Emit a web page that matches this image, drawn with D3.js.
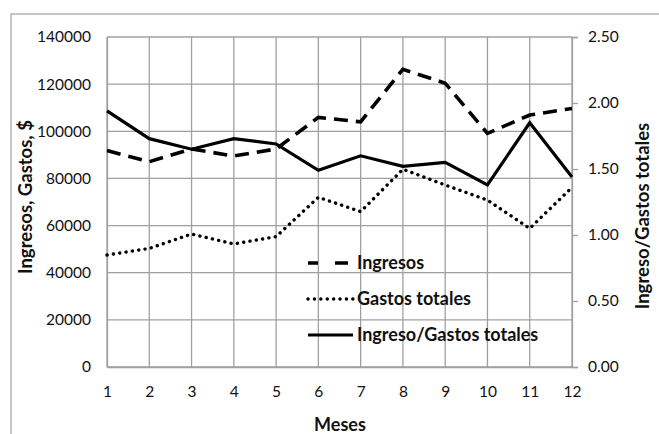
<!DOCTYPE html>
<html><head><meta charset="utf-8">
<script src="https://cdn.jsdelivr.net/npm/d3@7"></script>
<style>
html,body{margin:0;padding:0;background:#fff;}
svg{display:block;font-family:Lato,"Open Sans",sans-serif;}
</style></head>
<body>
<svg id="chart" width="659" height="434"></svg>
<script>
const months = [1,2,3,4,5,6,7,8,9,10,11,12];
const ingresos = [91800,87100,92500,89500,92500,105900,104000,126300,120400,99100,106900,109700];
const gastos = [47500,50300,56400,52200,55300,72000,65900,83900,77200,70800,58800,76200];
const ratio = [1.94,1.73,1.65,1.73,1.69,1.49,1.60,1.52,1.55,1.38,1.85,1.44];
const leftTicks = [0,20000,40000,60000,80000,100000,120000,140000];
const rightTicks = [0,0.5,1,1.5,2,2.5];
const seriesNames = ["Ingresos","Gastos totales","Ingreso/Gastos totales"];

const svg = d3.select("#chart");
const L = 107, R = 572, T = 37, B = 367;
const grid = "#a0a0a0";

svg.append("rect").attr("x",11).attr("y",14).attr("width",660).attr("height",430)
  .attr("fill","#fff").attr("stroke",grid).attr("stroke-width",1.2);

const x = d3.scaleLinear().domain([1,12]).range([L,R]);
const yL = d3.scaleLinear().domain([0,140000]).range([B,T]);
const yR = d3.scaleLinear().domain([0,2.5]).range([B,T]);

// gridlines
svg.append("g").selectAll("line").data(leftTicks).join("line")
  .attr("x1",L).attr("x2",R).attr("y1",d=>yL(d)).attr("y2",d=>yL(d))
  .attr("stroke",grid).attr("stroke-width",1.3);
svg.append("g").selectAll("line").data(months).join("line")
  .attr("x1",d=>x(d)).attr("x2",d=>x(d)).attr("y1",T).attr("y2",B)
  .attr("stroke",grid).attr("stroke-width",1.3);

// axes
const ax = svg.append("g").attr("transform",`translate(0,${B})`)
  .call(d3.axisBottom(x).tickValues(months).tickFormat(d3.format("d")).tickSize(0).tickPadding(19));
const ayl = svg.append("g").attr("transform",`translate(${L},0)`)
  .call(d3.axisLeft(yL).tickValues(leftTicks).tickFormat(d3.format("d")).tickSize(0).tickPadding(16));
const ayr = svg.append("g").attr("transform",`translate(${R},0)`)
  .call(d3.axisRight(yR).tickValues(rightTicks).tickFormat(d3.format(".2f")).tickSize(6).tickPadding(10));
[ax,ayl,ayr].forEach(g=>{
  g.select(".domain").attr("stroke",grid).attr("stroke-width",1.3);
  g.selectAll(".tick line").attr("stroke",grid).attr("stroke-width",1.3);
  g.selectAll("text").attr("font-family","Lato").attr("font-size",15.5).attr("fill","#111");
});

// lines
const lineL = d3.line().x((d,i)=>x(months[i])).y(d=>yL(d));
const lineR = d3.line().x((d,i)=>x(months[i])).y(d=>yR(d));
const styles = [
  {dash:"14 8", cap:"butt", w:3.6},
  {dash:"0.1 6.3", cap:"round", w:3.4},
  {dash:null, cap:"butt", w:3.2}
];
svg.append("path").attr("d",lineL(ingresos)).attr("fill","none").attr("stroke","#000")
  .attr("stroke-width",styles[0].w).attr("stroke-dasharray",styles[0].dash);
svg.append("path").attr("d",lineL(gastos)).attr("fill","none").attr("stroke","#000")
  .attr("stroke-width",styles[1].w).attr("stroke-dasharray",styles[1].dash).attr("stroke-linecap","round");
svg.append("path").attr("d",lineR(ratio)).attr("fill","none").attr("stroke","#000")
  .attr("stroke-width",styles[2].w).attr("stroke-linejoin","miter");

// legend
const legY = [263,299,335];
const lg = svg.append("g");
seriesNames.forEach((n,i)=>{
  lg.append("line").attr("x1",308).attr("x2",353).attr("y1",legY[i]).attr("y2",legY[i])
    .attr("stroke","#000").attr("stroke-width",styles[i].w)
    .attr("stroke-dasharray", i===0 ? "10 17 13" : styles[i].dash)
    .attr("stroke-linecap",styles[i].cap);
  lg.append("text").attr("x",357).attr("y",legY[i]).attr("dy","0.35em")
    .attr("font-size",18).attr("font-weight","bold").attr("fill","#111").text(n);
});

// axis titles
svg.append("text").attr("transform","translate(32,197) rotate(-90)").attr("text-anchor","middle")
  .attr("font-size",18.5).attr("font-weight","bold").attr("fill","#111").text("Ingresos, Gastos, $");
svg.append("text").attr("transform","translate(649,216) rotate(-90)").attr("text-anchor","middle")
  .attr("font-size",18.5).attr("font-weight","bold").attr("fill","#111").text("Ingreso/Gastos totales");
svg.append("text").attr("x",340).attr("y",431).attr("text-anchor","middle")
  .attr("font-size",18).attr("font-weight","bold").attr("fill","#111").text("Meses");
</script>
</body></html>
